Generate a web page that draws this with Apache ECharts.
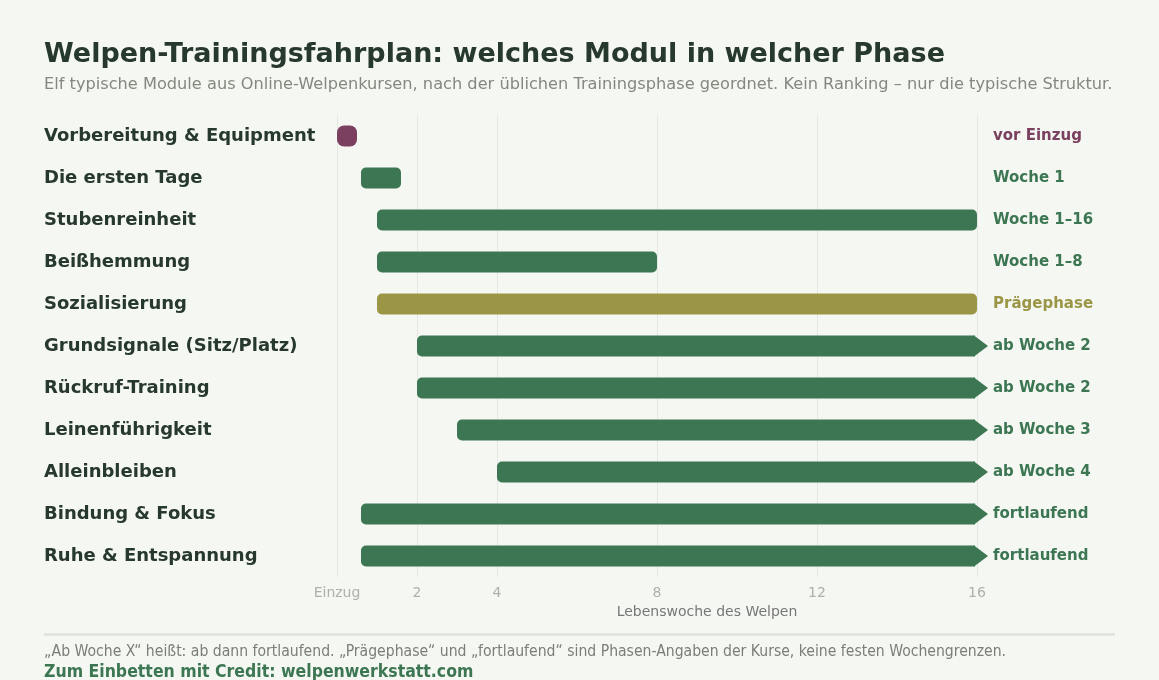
<!DOCTYPE html>
<html>
<head>
<meta charset="utf-8">
<title>Welpen-Trainingsfahrplan</title>
<script src="https://cdn.jsdelivr.net/npm/echarts@6/dist/echarts.min.js"></script>
<style>
  html, body { margin: 0; padding: 0; background: #f4f7f2; }
  #main { width: 1159px; height: 680px; }
</style>
</head>
<body>
<div id="main"></div>
<script>
// Module (von oben nach unten)
var modules = [
    'Vorbereitung & Equipment',
    'Die ersten Tage',
    'Stubenreinheit',
    'Beißhemmung',
    'Sozialisierung',
    'Grundsignale (Sitz/Platz)',
    'Rückruf-Training',
    'Leinenführigkeit',
    'Alleinbleiben',
    'Bindung & Fokus',
    'Ruhe & Entspannung'
];
// Start / Ende in Lebenswochen nach Einzug
var starts = [0, 0.6, 1, 1, 1, 2, 2, 3, 4, 0.6, 0.6];
var ends   = [0.5, 1.6, 16, 8, 16, 16, 16, 16, 16, 16, 16];
// offen = läuft weiter (Pfeil)
var openEnded = [false, false, false, false, false, true, true, true, true, true, true];
// prep / fixed / phase
var kinds = ['prep', 'fixed', 'fixed', 'fixed', 'phase', 'fixed', 'fixed', 'fixed', 'fixed', 'fixed', 'fixed'];
var phaseLabels = [
    'vor Einzug', 'Woche 1', 'Woche 1–16', 'Woche 1–8', 'Prägephase',
    'ab Woche 2', 'ab Woche 2', 'ab Woche 3', 'ab Woche 4',
    'fortlaufend', 'fortlaufend'
];
var tickValues = [0, 2, 4, 8, 12, 16];
var tickNames = {0: 'Einzug', 2: '2', 4: '4', 8: '8', 12: '12', 16: '16'};

var colors = { prep: '#7b405f', fixed: '#3c7652', phase: '#9a9646' };
var textDark = '#27382c';

var data = [];
for (var i = 0; i < modules.length; i++) {
    data.push({
        value: [i, starts[i], ends[i], openEnded[i] ? 1 : 0],
        itemStyle: { color: colors[kinds[i]] }
    });
}

function renderBar(params, api) {
    var row = api.value(0);
    var p0 = api.coord([api.value(1), row]);
    var p1 = api.coord([api.value(2), row]);
    var h = 21;
    var color = api.visual('color');
    var open = api.value(3) === 1;
    var children = [];
    var bodyEnd = open ? p1[0] - 2 : p1[0];
    var r = (p1[0] - p0[0]) < 30 ? 7 : 5;
    children.push({
        type: 'rect',
        shape: { x: p0[0], y: p0[1] - h / 2, width: bodyEnd - p0[0], height: h, r: open ? [r, 0, 0, r] : r },
        style: { fill: color }
    });
    if (open) {
        children.push({
            type: 'polygon',
            shape: { points: [[bodyEnd - 1, p1[1] - h / 2], [p1[0] + 11, p1[1]], [bodyEnd - 1, p1[1] + h / 2]] },
            style: { fill: color }
        });
    }
    var lab = api.coord([16, row]);
    children.push({
        type: 'text',
        style: {
            x: lab[0] + 16, y: lab[1],
            text: phaseLabels[params.dataIndex],
            fill: color,
            fontFamily: 'DejaVu Sans',
            fontWeight: 'bold',
            fontSize: 15,
            verticalAlign: 'middle', align: 'left'
        }
    });
    return { type: 'group', children: children };
}

var myChart = echarts.init(document.getElementById('main'));
var option = {
    backgroundColor: '#f4f7f2',
    animation: false,
    grid: { left: 337, right: 82, top: 115, bottom: 103 },
    xAxis: {
        type: 'value',
        min: 0,
        max: 18.5,
        name: 'Lebenswoche des Welpen',
        nameLocation: 'middle',
        nameGap: 25,
        nameTextStyle: { color: '#777', fontSize: 14, fontFamily: 'DejaVu Sans' },
        axisLine: { show: false },
        axisTick: { show: false, customValues: tickValues },
        axisLabel: {
            customValues: tickValues,
            color: '#b0b0ab',
            fontSize: 14,
            fontFamily: 'DejaVu Sans',
            margin: 9,
            formatter: function (v) { return tickNames[v]; }
        },
        splitLine: { show: true, lineStyle: { color: '#e5e8e2', width: 1 } }
    },
    yAxis: {
        type: 'category',
        inverse: true,
        data: modules,
        axisLine: { show: false },
        axisTick: { show: false },
        axisLabel: {
            align: 'left',
            margin: 293,
            color: textDark,
            fontSize: 18,
            fontWeight: 'bold',
            fontFamily: 'DejaVu Sans'
        },
        splitLine: { show: false }
    },
    series: [{
        type: 'custom',
        renderItem: renderBar,
        encode: { x: [1, 2], y: 0 },
        data: data,
        clip: false
    }],
    graphic: [
        {
            type: 'text', left: 44, top: 41,
            style: { text: 'Welpen-Trainingsfahrplan: welches Modul in welcher Phase', fill: textDark, fontFamily: 'DejaVu Sans', fontWeight: 'bold', fontSize: 27 }
        },
        {
            type: 'text', left: 44, top: 77,
            style: { text: 'Elf typische Module aus Online-Welpenkursen, nach der üblichen Trainingsphase geordnet. Kein Ranking – nur die typische Struktur.', fill: '#85887f', fontFamily: 'DejaVu Sans', fontSize: 16.2 }
        },
        {
            type: 'rect', left: 44, top: 633,
            shape: { width: 1071, height: 3 },
            style: { fill: '#e2e5df' }
        },
        {
            type: 'text', left: 44, top: 644,
            style: { text: '„Ab Woche X“ heißt: ab dann fortlaufend. „Prägephase“ und „fortlaufend“ sind Phasen-Angaben der Kurse, keine festen Wochengrenzen.', fill: '#7b7e77', fontFamily: 'DejaVu Sans Condensed', fontSize: 15.6 }
        },
        {
            type: 'text', left: 44, top: 663,
            style: { text: 'Zum Einbetten mit Credit: welpenwerkstatt.com', fill: '#3c7652', fontFamily: 'DejaVu Sans Condensed', fontWeight: 'bold', fontSize: 17.5 }
        }
    ]
};
if (option && typeof option === "object") {
    myChart.setOption(option, true);
}
</script>
</body>
</html>
